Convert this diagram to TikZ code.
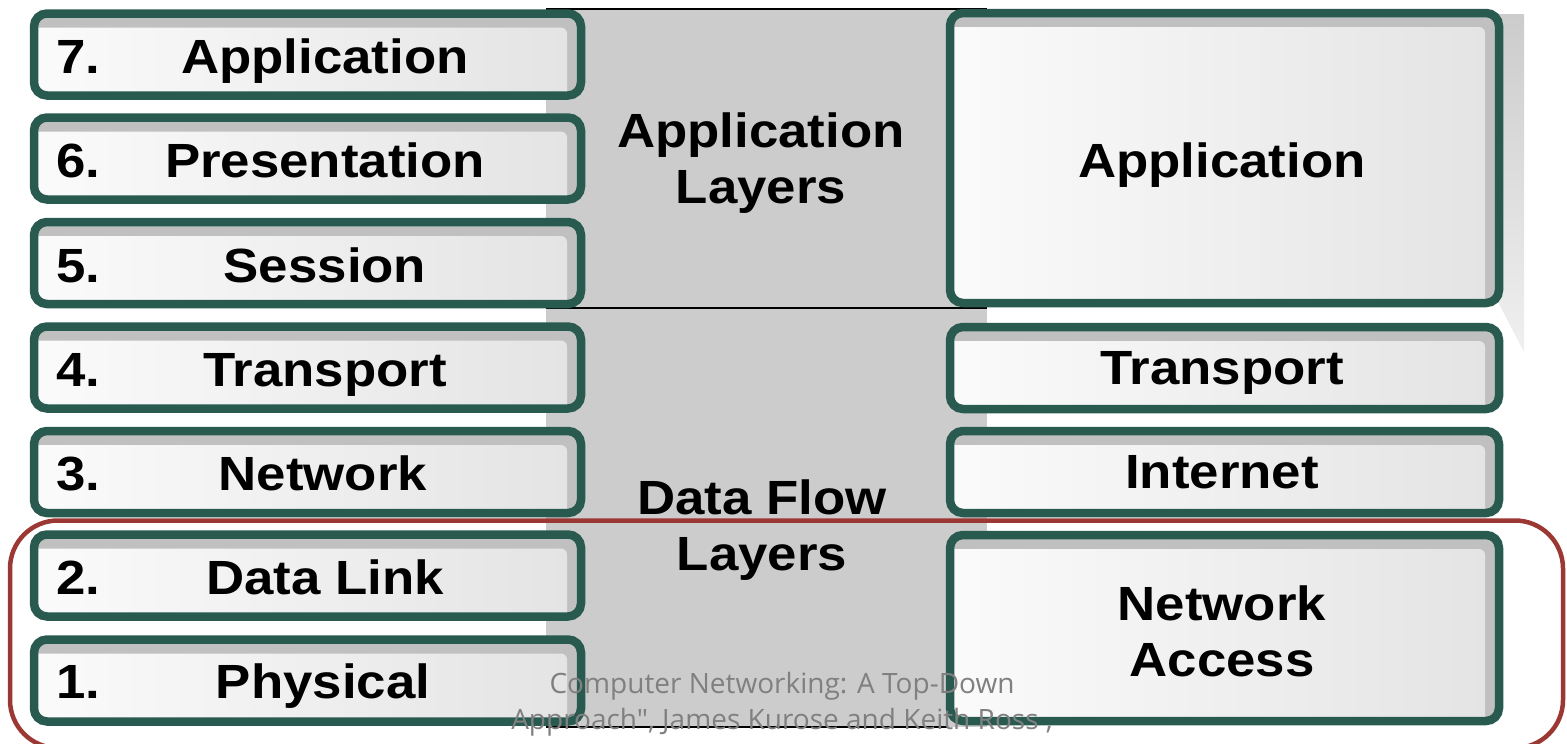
\documentclass[tikz,border=0pt]{standalone}
\usepackage{fontspec}
\setmainfont{Liberation Sans}[FakeStretch=1.1]
\newfontfamily\citefont{Open Sans}
\definecolor{framegreen}{RGB}{40,90,80}
\definecolor{bandgrey}{RGB}{204,204,204}
\definecolor{bevelgrey}{RGB}{192,192,192}
\definecolor{boxlight}{RGB}{251,251,251}
\definecolor{boxdark}{RGB}{228,228,228}
\definecolor{bracered}{RGB}{155,56,52}
\definecolor{citegrey}{RGB}{128,128,128}

\begin{document}
\begin{tikzpicture}[x=1pt,y=-1pt,
  layerbox/.style={shape=rectangle, draw=framegreen, line width=8.5pt,
    rounded corners=13pt, inner sep=0pt,
    path picture={
      \fill[bevelgrey] ([xshift=-5pt,yshift=-5pt]path picture bounding box.south west)
        rectangle ([xshift=5pt,yshift=5pt]path picture bounding box.north east);
      \shade[left color=boxlight, right color=boxdark, rounded corners=6pt]
        ([xshift=-8pt,yshift=-8pt]path picture bounding box.south west)
        rectangle ([xshift=-14pt,yshift=-14pt]path picture bounding box.north east);
    }},
  leftbox/.style={layerbox, minimum width=547pt, minimum height=82pt},
  rightbox/.style={layerbox, minimum width=549pt},
  layertext/.style={font=\bfseries\fontsize{48}{56}\selectfont, inner sep=0pt, text=black},
  numtext/.style={layertext, anchor=base west},
  nametext/.style={layertext, anchor=base},
  grouptext/.style={layertext, align=center, anchor=center},
]
\useasboundingbox (0,0) rectangle (1567,744);

% grey band behind the middle column
\fill[bandgrey] (546,9) rectangle (987,727);
\draw[black, line width=2pt] (546,9) -- (987,9);
\draw[black, line width=2pt] (546,308) -- (987,308);
\draw[black, line width=2pt] (546,727) -- (948,727);

% drop shadow at the right of the TCP/IP application block
\shade[top color=bandgrey, bottom color=white!94!black]
  (1497,14) -- (1524,14) -- (1524,352) -- (1497,300) -- cycle;

% OSI layers
\node[leftbox] (l7) at (307.5,54.5) {};
\node[leftbox] (l6) at (307.5,158.5) {};
\node[leftbox] (l5) at (307.5,263) {};
\node[leftbox] (l4) at (307.5,367.5) {};
\node[leftbox] (l3) at (307.5,472) {};
\node[leftbox] (l2) at (307.5,575.5) {};
\node[leftbox] (l1) at (307.5,680.5) {};

\node[numtext] (n7) at (56,73) {7.};
\node[numtext] (n6) at (56,177) {6.};
\node[numtext] (n5) at (56,282) {5.};
\node[numtext] (n4) at (56,386) {4.};
\node[numtext] (n3) at (56,490) {3.};
\node[numtext] (n2) at (56,594) {2.};
\node[numtext] (n1) at (56,698) {1.};

\node[nametext] (t7) at (325,73) {Application};
\node[nametext] (t6) at (325,177) {Presentation};
\node[nametext] (t5) at (325,282) {Session};
\node[nametext] (t4) at (325,386) {Transport};
\node[nametext] (t3) at (323,490) {Network};
\node[nametext] (t2) at (325,594) {Data Link};
\node[nametext] (t1) at (323,698) {Physical};

% grouping labels
\node[grouptext] (applayers) at (761,163) {Application\\Layers};
\node[grouptext] (flowlayers) at (762,530) {Data Flow\\Layers};

% TCP/IP layers
\node[rightbox, minimum height=290pt] (rapp) at (1224.5,158) {};
\node[rightbox, minimum height=82pt] (rtrans) at (1224.5,368) {};
\node[rightbox, minimum height=82pt] (rinet) at (1224.5,472) {};
\node[rightbox, minimum height=186pt] (rnet) at (1224.5,628) {};

\node[nametext] (tapp) at (1222,177) {Application};
\node[nametext] (ttrans) at (1222,384) {Transport};
\node[nametext] (tinet) at (1222,488) {Internet};
\node[grouptext] (tnet) at (1222,631) {Network\\Access};

% frame round the two lowest layers
\draw[bracered, line width=4.5pt, rounded corners=48pt] (10,520.5) rectangle (1563,748);

% source note
\node[font=\citefont\fontsize{28}{36}\selectfont, text=citegrey, align=center,
      inner sep=0pt] (source) at (782,704)
  {Computer Networking: A Top-Down\\Approach", James Kurose and Keith Ross ,};
\end{tikzpicture}
\end{document}
